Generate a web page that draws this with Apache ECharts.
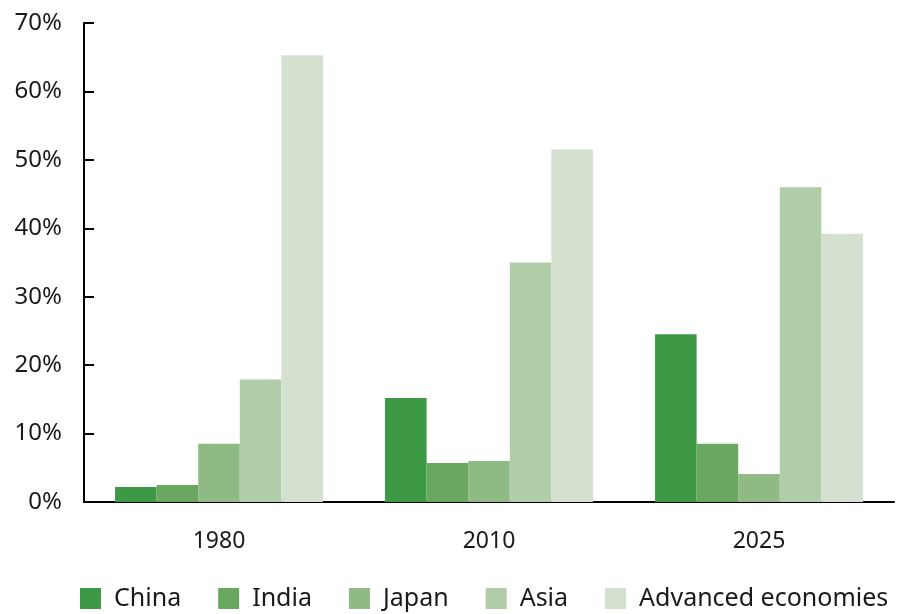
<!DOCTYPE html>
<html>
<head>
<meta charset="utf-8">
<script src="https://cdn.jsdelivr.net/npm/echarts@6/dist/echarts.min.js"></script>
<style>
  html, body { margin: 0; padding: 0; background: #fff; }
  #chart { width: 899px; height: 614px; }
</style>
</head>
<body>
<div id="chart"></div>
<script>
// 年份
var years = ['1980', '2010', '2025'];
// 各经济体占比 (%)
var china = [2.2, 15.2, 24.5];
var india = [2.5, 5.7, 8.5];
var japan = [8.5, 6.0, 4.1];
var asia = [17.9, 35.0, 46.0];
var advanced = [65.3, 51.5, 39.2];
var seriesNames = ['China', 'India', 'Japan', 'Asia', 'Advanced economies'];
var seriesColors = ['#3d9946', '#6aa862', '#8fba84', '#b0cca8', '#d5e1d0'];
var yTicks = [0, 10, 20, 30, 40, 50, 60, 70];

var fontFamily = '"Noto Sans", "Open Sans", sans-serif';
var chart = echarts.init(document.getElementById('chart'));

var dataList = [china, india, japan, asia, advanced];
var series = [];
for (var i = 0; i < seriesNames.length; i++) {
	series.push({
		name: seriesNames[i],
		type: 'bar',
		data: dataList[i],
		barGap: '0%',
		barCategoryGap: '23%',
		itemStyle: { color: seriesColors[i] },
		emphasis: { disabled: true }
	});
}

var option = {
	animation: false,
	grid: { left: 84, right: 5, top: 23, bottom: 112, containLabel: false },
	legend: {
		data: seriesNames,
		left: 80,
		bottom: 3,
		padding: 0,
		itemWidth: 21,
		itemHeight: 21,
		itemGap: 37,
		icon: 'rect',
		textStyle: { fontSize: 25, color: '#1a1a1a', fontFamily: fontFamily, padding: [0, 0, 0, 8] }
	},
	xAxis: {
		type: 'category',
		data: years,
		axisLine: { lineStyle: { color: '#000', width: 2 } },
		axisTick: { show: false },
		axisLabel: { fontSize: 23, color: '#1a1a1a', margin: 28, fontFamily: fontFamily }
	},
	yAxis: {
		type: 'value',
		min: yTicks[0],
		max: yTicks[yTicks.length - 1],
		interval: 10,
		axisLine: { show: true, lineStyle: { color: '#000', width: 2 } },
		axisTick: { show: true, inside: true, length: 10, lineStyle: { color: '#000', width: 2 } },
		splitLine: { show: false },
		axisLabel: { fontSize: 24, color: '#1a1a1a', margin: 22, formatter: '{value}%', fontFamily: fontFamily }
	},
	series: series
};

chart.setOption(option);
</script>
</body>
</html>
